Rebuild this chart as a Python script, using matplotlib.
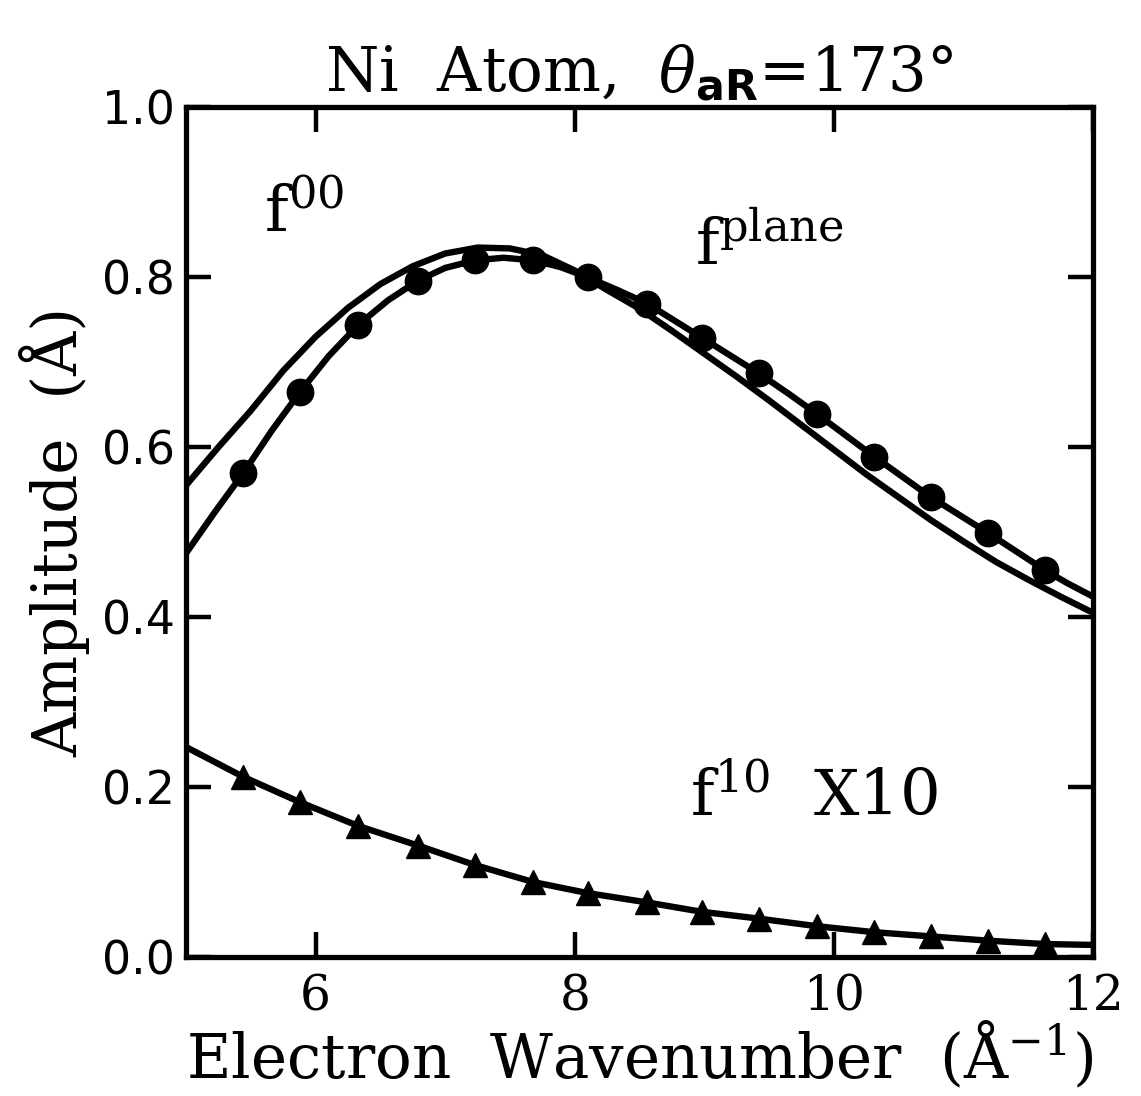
import numpy as np
import matplotlib.pyplot as plt

plt.rcParams['mathtext.fontset'] = 'custom'
plt.rcParams['mathtext.rm'] = 'DejaVu Serif'
plt.rcParams['mathtext.it'] = 'DejaVu Serif:italic'
plt.rcParams['mathtext.bf'] = 'DejaVu Sans:bold'

# f(plane) curve
k_plane = [5.0, 5.22, 5.44, 5.66, 5.88, 6.10, 6.33, 6.56, 6.79, 7.00, 7.23, 7.45, 7.68, 7.89, 8.10, 8.33,
           8.56, 8.77, 8.98, 9.20, 9.42, 9.65, 9.87, 10.09, 10.31, 10.53, 10.75, 10.97, 11.19, 11.41,
           11.63, 11.80, 12.0]
f_plane = [0.475, 0.523, 0.569, 0.619, 0.665, 0.707, 0.744, 0.773, 0.796, 0.811, 0.820, 0.823, 0.820,
           0.812, 0.800, 0.785, 0.769, 0.749, 0.729, 0.708, 0.687, 0.663, 0.639, 0.614, 0.589, 0.565,
           0.541, 0.520, 0.499, 0.477, 0.455, 0.440, 0.424]
# k values where the dots sit
k_dots = [5.44, 5.88, 6.33, 6.79, 7.23, 7.68, 8.10, 8.56, 8.98, 9.42, 9.87, 10.31, 10.75, 11.19, 11.63]
f_dots = [0.569, 0.665, 0.744, 0.796, 0.820, 0.820, 0.800, 0.769, 0.729, 0.687, 0.639, 0.589, 0.541, 0.499, 0.455]

# f(00) curve, no markers
k_00 = [5.0, 5.25, 5.5, 5.75, 6.0, 6.25, 6.5, 6.75, 7.0, 7.25, 7.5, 7.75, 8.0, 8.25, 8.5, 8.75, 9.0,
        9.25, 9.5, 9.75, 10.0, 10.25, 10.5, 10.75, 11.0, 11.25, 11.5, 11.75, 12.0]
f_00 = [0.555, 0.600, 0.643, 0.690, 0.730, 0.764, 0.792, 0.813, 0.828, 0.835, 0.834, 0.826, 0.808,
        0.785, 0.763, 0.737, 0.710, 0.683, 0.655, 0.626, 0.597, 0.568, 0.541, 0.514, 0.489, 0.465,
        0.444, 0.424, 0.405]

# f(10) x10, triangles
k_10 = [5.0, 5.44, 5.88, 6.33, 6.79, 7.23, 7.68, 8.10, 8.56, 8.98, 9.42, 9.87, 10.31, 10.75, 11.19, 11.63, 12.0]
f_10 = [0.247, 0.212, 0.182, 0.154, 0.131, 0.108, 0.088, 0.075, 0.064, 0.053, 0.045, 0.036, 0.029, 0.024, 0.019, 0.015, 0.014]

fig = plt.figure(figsize=(11.41, 10.96), dpi=100)
ax = fig.add_axes([0.163, 0.127, 0.795, 0.775])

lw = 4.6
ax.plot(k_00, f_00, color='black', lw=lw)
ax.plot(k_plane, f_plane, color='black', lw=lw)
ax.plot(k_dots, f_dots, 'o', color='black', ms=19)
ax.plot(k_10, f_10, color='black', lw=lw)
ax.plot(k_10[1:-1], f_10[1:-1], '^', color='black', ms=17)

serif = 'DejaVu Serif'
ax.set_xlim(5, 12)
ax.set_ylim(0, 1.0)
ax.set_xticks([6, 8, 10, 12])
ax.set_yticks([0.0, 0.2, 0.4, 0.6, 0.8, 1.0])
ax.set_yticklabels(['0.0', '0.2', '0.4', '0.6', '0.8', '1.0'], fontfamily='DejaVu Sans', fontsize=33)
ax.set_xticklabels(['6', '8', '10', '12'], fontfamily=serif, fontsize=35)
ax.tick_params(direction='in', length=18, width=3.2, top=True, right=True, pad=12)
ax.tick_params(axis='y', pad=8)
for s in ax.spines.values():
    s.set_linewidth(3.8)

ax.set_xlabel('Electron  Wavenumber  (Å$^{-1}$)', fontsize=44, fontfamily=serif, labelpad=0)
ax.set_ylabel('Amplitude  (Å)', fontsize=44, fontfamily=serif, labelpad=8)
ax.set_title(r'Ni  Atom,  $\theta_{\mathbf{aR}}$=173°', fontsize=44, fontfamily=serif, pad=12)

ax.text(5.6, 0.853, r'$\mathrm{f}^{00}$', fontsize=46)
ax.text(8.93, 0.814, r'$\mathrm{f}^{\mathrm{plane}}$', fontsize=46)
ax.text(8.89, 0.167, r'$\mathrm{f}^{10}$  X10', fontsize=46, fontfamily=serif)

fig.savefig('out.png', dpi=100)
